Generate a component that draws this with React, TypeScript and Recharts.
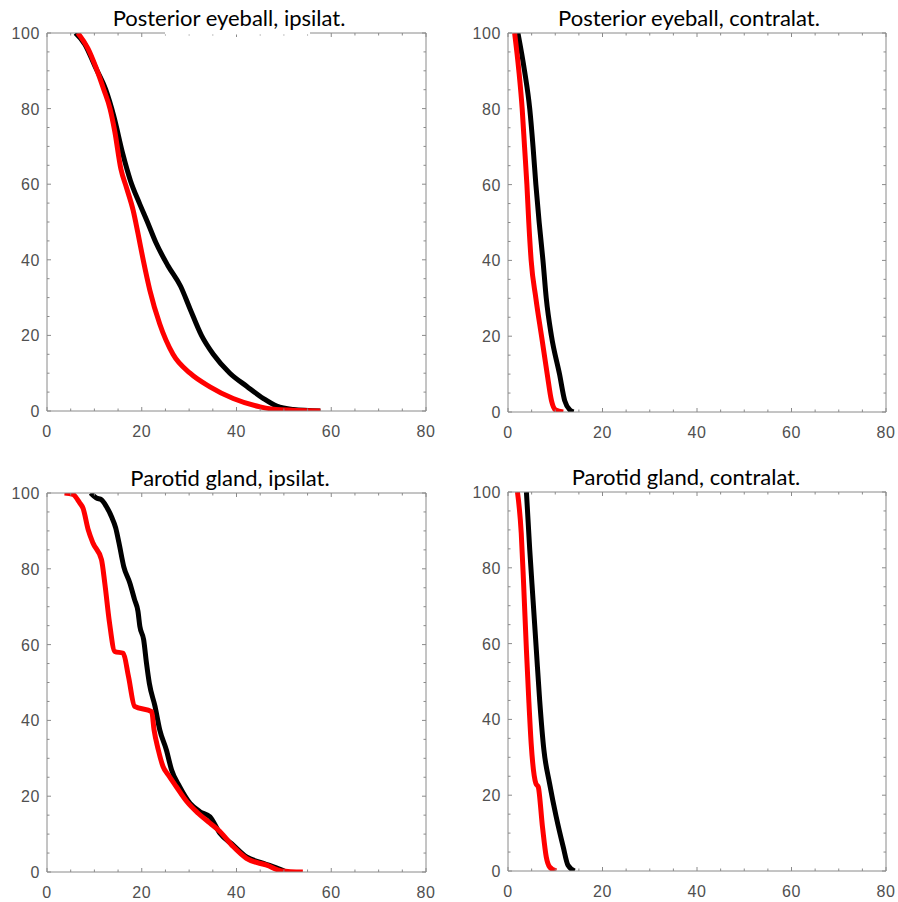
import React from 'react';
import { LineChart, Line, XAxis, YAxis } from 'recharts';

// ---- tick values ----
const xTicks = [0, 5, 10, 15, 20, 25, 30, 35, 40, 45, 50, 55, 60, 65, 70, 75, 80];
const yTicks = [0, 5, 10, 15, 20, 25, 30, 35, 40, 45, 50, 55, 60, 65, 70, 75, 80, 85, 90, 95, 100];
const xLabels = [0, 20, 40, 60, 80];
const yLabels = [0, 20, 40, 60, 80, 100];

// ---- titles ----
const titles = [
  'Posterior eyeball, ipsilat.',
  'Posterior eyeball, contralat.',
  'Parotid gland, ipsilat.',
  'Parotid gland, contralat.',
];

// ---- series: [dose, volume %] ----
const eyeIpsiBlack: [number, number][] = [
  [6, 100], [8, 97], [10.2, 91], [12.4, 85], [14.1, 78], [16, 68], [17.6, 61], [19.5, 55],
  [21.2, 50], [23, 44.5], [25.5, 38.5], [28.2, 33], [30.2, 27], [32.6, 20], [35.1, 15],
  [38.6, 10], [42.2, 6.5], [45.7, 3.3], [48.5, 1.3], [52, 0.4], [57.7, 0],
];
const eyeIpsiRed: [number, number][] = [
  [6.5, 100], [8.6, 96], [10.3, 91], [12, 85], [13.3, 80], [14.3, 74], [15.6, 64], [16.8, 59],
  [18.2, 53], [19.2, 47], [20.3, 40], [21.7, 32], [23.8, 23], [26.6, 15], [30.2, 10],
  [34.4, 6.4], [39.3, 3.3], [45, 1.1], [49.2, 0.3], [57.7, 0],
];
const eyeContraBlack: [number, number][] = [
  [2.1, 100], [3.5, 90], [4.6, 80], [5.3, 70], [5.9, 60], [6.6, 50], [7.4, 40], [8.1, 30],
  [9.2, 20], [10.9, 10], [12, 3], [13.1, 0.5], [13.9, 0],
];
const eyeContraRed: [number, number][] = [
  [1.4, 100], [2.3, 90], [3.0, 80], [3.5, 70], [4.0, 60], [4.4, 50], [4.9, 40], [5.9, 30],
  [7.1, 20], [8.3, 10], [9.2, 3], [10.1, 0.5], [11.7, 0],
];
const parIpsiBlack: [number, number][] = [
  [9.2, 100], [10.4, 98.7], [11.5, 98.2], [12.5, 96.5], [13.6, 93.8], [14.5, 90.8], [15.2, 86.8],
  [16.2, 80.6], [17.5, 76.2], [18.5, 71.8], [19.2, 68.8], [19.6, 64.8], [20.4, 61.3], [21, 55.1],
  [21.6, 49.8], [22.8, 43.7], [23.8, 37.5], [25.2, 32.2], [26.3, 26.9], [28, 22.5], [30.2, 18.1],
  [32.3, 15.9], [34.4, 14.6], [36.5, 10.2], [39.3, 7.1], [42.1, 4], [45.7, 2.3], [49.2, 0.7], [50.5, 0],
];
const parIpsiRed: [number, number][] = [
  [3.7, 100], [5.5, 99.6], [6.9, 97.4], [7.6, 96], [8.7, 90.3], [9.7, 86.8], [11.5, 82.4],
  [12.2, 76.2], [13.2, 65.7], [14.3, 58.2], [16.1, 57.7], [17.2, 51.6], [18.5, 43.7], [22.1, 42.3],
  [22.6, 37.5], [23.5, 32.2], [24.5, 27.8], [25.6, 25.6], [27.3, 22.5], [29.5, 18.6], [31.9, 15.5],
  [34.4, 12.9], [36.5, 10.7], [39.3, 6.7], [42.1, 3.6], [46.4, 1.8], [49.5, 0.3], [54, 0],
];
const parContraBlack: [number, number][] = [
  [3.9, 100], [4.6, 84.8], [5.3, 71.5], [6, 58.3], [6.7, 45.1], [7.6, 31.9], [8.8, 23.1],
  [10.2, 14.3], [11.7, 6.3], [12.7, 1.5], [14.1, 0],
];
const parContraRed: [number, number][] = [
  [2, 100], [2.8, 89.2], [3.3, 75.9], [3.9, 58.3], [4.4, 45.1], [4.9, 33.7], [5.9, 23.1],
  [6.4, 22.2], [7.3, 11.6], [8.1, 3.7], [8.8, 1.1], [10.2, 0],
];

const toData = (pts: [number, number][]) => pts.map(([x, y]) => ({ x, y }));

const AXIS = '#8a8a8a';
const LABEL = '#505050';
const LABEL_FONT = '"Liberation Sans", Arial, sans-serif';
const TITLE_FONT = 'Lato, "Open Sans", sans-serif';
const MAJ = 4;
const MIN = 2.5;

const BottomTick = (p: any) => {
  const major = xLabels.includes(p.payload.value);
  return (
    <g>
      <line x1={p.x} x2={p.x} y1={p.y} y2={p.y - (major ? MAJ : MIN)} stroke={AXIS} />
      {major && (
        <text x={p.x} y={p.y + 26} textAnchor="middle" fontSize={16} letterSpacing={0.6} fill={LABEL} fontFamily={LABEL_FONT}>
          {p.payload.value}
        </text>
      )}
    </g>
  );
};
const TopTick = (p: any) => {
  const major = xLabels.includes(p.payload.value);
  return <line x1={p.x} x2={p.x} y1={p.y} y2={p.y + (major ? MAJ : MIN)} stroke={AXIS} />;
};
const LeftTick = (p: any) => {
  const major = yLabels.includes(p.payload.value);
  return (
    <g>
      <line x1={p.x} x2={p.x + (major ? MAJ : MIN)} y1={p.y} y2={p.y} stroke={AXIS} />
      {major && (
        <text x={p.x - 7} y={p.y + 6} textAnchor="end" fontSize={16} letterSpacing={0.6} fill={LABEL} fontFamily={LABEL_FONT}>
          {p.payload.value}
        </text>
      )}
    </g>
  );
};
const RightTick = (p: any) => {
  const major = yLabels.includes(p.payload.value);
  return <line x1={p.x} x2={p.x - (major ? MAJ : MIN)} y1={p.y} y2={p.y} stroke={AXIS} />;
};

type PanelProps = {
  left: number; top: number; width: number; height: number;
  plotLeft: number; plotTop: number; plotW: number; plotH: number;
  black: [number, number][]; red: [number, number][];
};

const Panel = (pp: PanelProps) => {
  const bottomH = pp.height - pp.plotTop - pp.plotH;
  const right = pp.width - pp.plotLeft - pp.plotW;
  return (
    <div style={{ position: 'absolute', left: pp.left, top: pp.top, width: pp.width, height: pp.height }}>
      <LineChart width={pp.width} height={pp.height} margin={{ top: pp.plotTop - 1, right: right - 1, bottom: 0, left: 0 }}>
        <XAxis xAxisId="b" type="number" dataKey="x" domain={[0, 80]} ticks={xTicks} interval={0}
          orientation="bottom" height={bottomH} tickSize={0} tickMargin={0} tickLine={false}
          axisLine={{ stroke: AXIS }} tick={<BottomTick />} allowDataOverflow />
        <XAxis xAxisId="t" type="number" dataKey="x" domain={[0, 80]} ticks={xTicks} interval={0}
          orientation="top" height={1} tickSize={0} tickMargin={0} tickLine={false}
          axisLine={{ stroke: AXIS }} tick={<TopTick />} allowDataOverflow />
        <YAxis yAxisId="l" type="number" dataKey="y" domain={[0, 100]} ticks={yTicks} interval={0}
          orientation="left" width={pp.plotLeft} tickSize={0} tickMargin={0} tickLine={false}
          axisLine={{ stroke: AXIS }} tick={<LeftTick />} allowDataOverflow />
        <YAxis yAxisId="r" type="number" dataKey="y" domain={[0, 100]} ticks={yTicks} interval={0}
          orientation="right" width={1} tickSize={0} tickMargin={0} tickLine={false}
          axisLine={{ stroke: AXIS }} tick={<RightTick />} allowDataOverflow />
        <Line xAxisId="t" yAxisId="r" data={toData(pp.black)} dataKey="y" type="monotone" stroke="none"
          strokeWidth={0} dot={false} isAnimationActive={false} />
        <Line xAxisId="b" yAxisId="l" data={toData(pp.black)} dataKey="y" type="monotone" stroke="#000000"
          strokeWidth={5} dot={false} isAnimationActive={false} strokeLinejoin="round" />
        <Line xAxisId="b" yAxisId="l" data={toData(pp.red)} dataKey="y" type="monotone" stroke="#ff0000"
          strokeWidth={5} dot={false} isAnimationActive={false} strokeLinejoin="round" />
      </LineChart>
    </div>
  );
};

const titlePos = [
  { x: 229, y: 26 },
  { x: 689, y: 26 },
  { x: 230, y: 486 },
  { x: 686, y: 485 },
];

export default function App() {
  return (
    <div style={{ position: 'absolute', left: 0, top: 0, width: 898, height: 902, background: '#ffffff', overflow: 'hidden' }}>
      <Panel left={0} top={0} width={449} height={451} plotLeft={47} plotTop={33} plotW={379} plotH={378}
        black={eyeIpsiBlack} red={eyeIpsiRed} />
      <Panel left={449} top={0} width={449} height={451} plotLeft={59} plotTop={33} plotW={378} plotH={379}
        black={eyeContraBlack} red={eyeContraRed} />
      <Panel left={0} top={451} width={449} height={451} plotLeft={47} plotTop={42} plotW={379} plotH={379}
        black={parIpsiBlack} red={parIpsiRed} />
      <Panel left={449} top={451} width={449} height={451} plotLeft={59} plotTop={41} plotW={378} plotH={379}
        black={parContraBlack} red={parContraRed} />
      <svg width={898} height={902} style={{ position: 'absolute', left: 0, top: 0, pointerEvents: 'none' }}>
        <rect x={165} y={31.5} width={145} height={3} fill="#ffffff" />
        {titles.map((t, i) => (
          <text key={t} x={titlePos[i].x} y={titlePos[i].y} textAnchor="middle" fontSize={22}
            fontFamily={TITLE_FONT} fill="#000000">{t}</text>
        ))}
      </svg>
    </div>
  );
}
